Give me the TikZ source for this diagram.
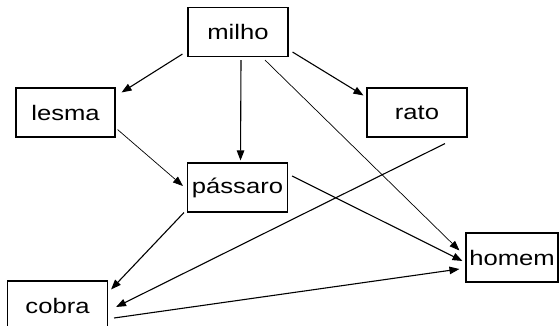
\documentclass[tikz,border=0pt]{standalone}
\usepackage{fontspec}
\newfontfamily\labfont{Liberation Sans}[FakeStretch=1.22]
\usetikzlibrary{arrows.meta,calc}
\begin{document}
\begin{tikzpicture}[x=1pt,y=-1pt,
  box/.style={draw,line width=1.1pt,minimum width=100pt,minimum height=49pt,inner sep=0pt,font=\labfont\fontsize{21}{21}\selectfont},
  arr/.style={line width=1.1pt,-{Triangle[length=10pt,width=7.5pt]}},
  thinarr/.style={line width=0.7pt,-{Triangle[length=10pt,width=7.5pt]}}]
\useasboundingbox (0,0) rectangle (559,326);
\node[box] (milho) at (238,32) {milho};
\node[box,minimum width=99pt] (lesma) at (65.5,112.5) {lesma};
\node[box] (rato) at (417,112.5) {rato};
\node[box] (passaro) at (237.5,187.5) {pássaro};
\node[box] (cobra) at (57.5,305.5) {cobra};
\node[box,minimum width=92pt] (homem) at (512,257.5) {homem};
\draw[arr] ($(milho.south west)+(-5,-3)$) -- ($(lesma.north east)+(6,5)$);
\draw[arr] ($(milho.south east)+(4,-5)$) -- ($(rato.north west)+(-3,8)$);
\draw[arr] ($(milho.south)+(3,3)$) -- ($(passaro.north)+(3,-2)$);
\draw[thinarr] ($(milho.south)+(27,3)$) -- ($(homem.west)+(-6,-7)$);
\draw[thinarr] ($(lesma.south east)+(2,-8)$) -- ($(passaro.west)+(-4,-1.5)$);
\draw[arr] ($(passaro.south west)+(-3,0)$) -- ($(cobra.north east)+(3,9)$);
\draw[arr] ($(passaro.east)+(4,-11.5)$) -- ($(homem.west)+(-3,3.5)$);
\draw[arr] ($(rato.south)+(28,6)$) -- ($(cobra.east)+(8,1.5)$);
\draw[arr] ($(cobra.east)+(6,12.5)$) -- ($(homem.west)+(-6,11.5)$);
\end{tikzpicture}
\end{document}
